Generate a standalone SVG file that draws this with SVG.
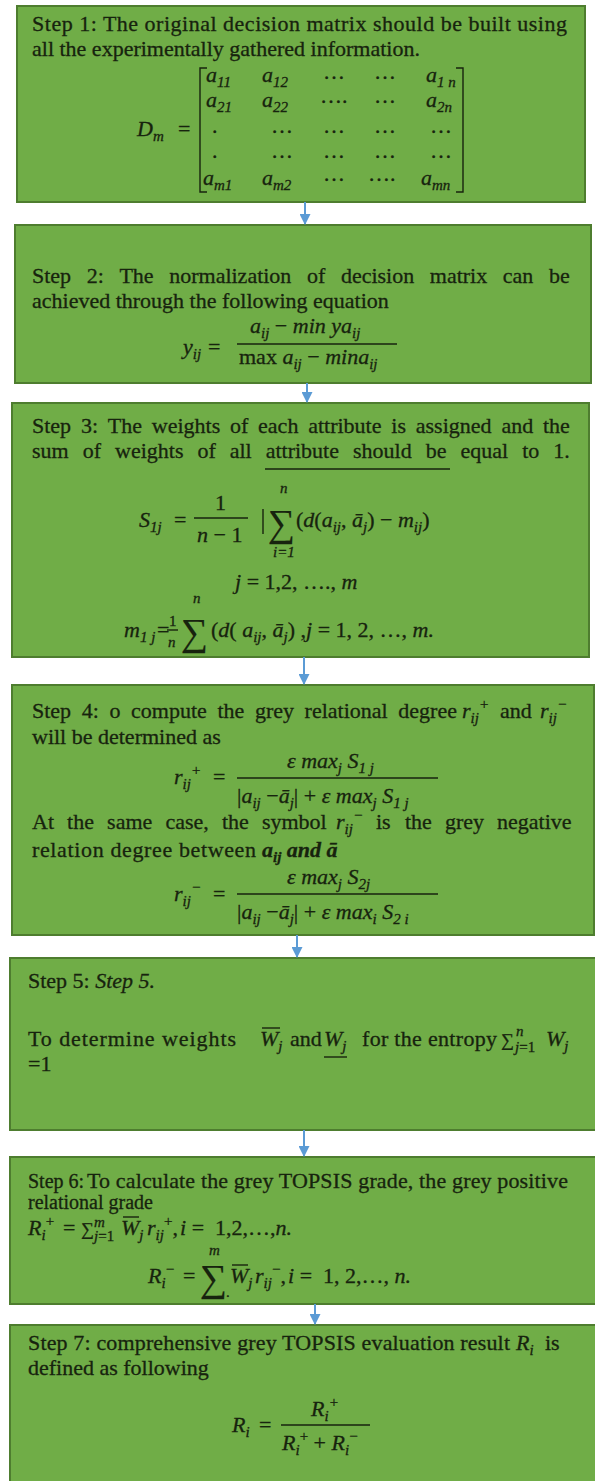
<svg xmlns="http://www.w3.org/2000/svg" width="595" height="1481" viewBox="0 0 595 1481">
<style>
.box{fill:#70ad47;stroke:#4e7d2f;stroke-width:2}
text{font-family:"Liberation Serif","Times New Roman",serif;font-size:22px;fill:#17230e;stroke:#17230e;stroke-width:0.3}
.i{font-style:italic}
.b{font-weight:bold}
.sm{font-size:15px}
.sub{font-size:15px;baseline-shift:-5px}
.sup{font-size:15px;baseline-shift:9px}
.big{font-size:38px;stroke-width:0.2}
.ln{stroke:#17230e;stroke-width:1.4;fill:none}
.conn line{stroke:#5b9bd5;stroke-width:2;marker-end:url(#ah)}
</style>
<defs>
<marker id="ah" markerUnits="userSpaceOnUse" markerWidth="11" markerHeight="11" refX="10" refY="5.5" orient="auto">
<path d="M0,0 L11,5.5 L0,11 z" fill="#5b9bd5"/>
</marker>
</defs>

<g id="step1">
<rect class="box" x="17" y="6" width="568" height="196"/>
<text x="32" y="31" textLength="535">Step 1: The original decision matrix should be built using</text>
<text x="32" y="56">all the experimentally gathered information.</text>
<text x="137" y="136" class="i">D<tspan class="sub">m</tspan></text>
<text x="178" y="136">=</text>
<path class="ln" d="M207,68 H200 V192 H207 M456,68 H463 V192 H456"/>
<text x="206" y="82" class="i">a<tspan class="sub">11</tspan></text>
<text x="262" y="82" class="i">a<tspan class="sub">12</tspan></text>
<text x="323" y="79">…</text>
<text x="374" y="79">…</text>
<text x="426" y="82" class="i">a<tspan class="sub">1</tspan><tspan class="sub"> n</tspan></text>
<text x="206" y="107" class="i">a<tspan class="sub">21</tspan></text>
<text x="262" y="107" class="i">a<tspan class="sub">22</tspan></text>
<text x="320" y="103">….</text>
<text x="374" y="103">…</text>
<text x="426" y="107" class="i">a<tspan class="sub">2n</tspan></text>
<text x="212" y="133">.</text>
<text x="271" y="133">…</text>
<text x="323" y="133">…</text>
<text x="374" y="133">…</text>
<text x="430" y="133">…</text>
<text x="212" y="158">.</text>
<text x="271" y="158">…</text>
<text x="323" y="158">…</text>
<text x="374" y="158">…</text>
<text x="430" y="158">…</text>
<text x="203" y="185" class="i">a<tspan class="sub">m1</tspan></text>
<text x="262" y="185" class="i">a<tspan class="sub">m2</tspan></text>
<text x="323" y="181">…</text>
<text x="368" y="181">….</text>
<text x="421" y="185" class="i">a<tspan class="sub">mn</tspan></text>
</g>

<g id="step2">
<rect class="box" x="15" y="225" width="576" height="158"/>
<text y="283"><tspan x="32">Step</tspan><tspan x="86.7">2:</tspan><tspan x="119.4">The</tspan><tspan x="169.2">normalization</tspan><tspan x="307">of</tspan><tspan x="340.9">decision</tspan><tspan x="429.8">matrix</tspan><tspan x="502.8">can</tspan><tspan x="548.9">be</tspan></text>
<text x="32" y="308">achieved through the following equation</text>
<text x="183" y="354" class="i">y<tspan class="sub">ij</tspan></text>
<text x="208" y="354">=</text>
<text x="250" y="333"><tspan class="i">a</tspan><tspan class="i sub">ij</tspan><tspan> − </tspan><tspan class="i">min ya</tspan><tspan class="i sub">ij</tspan></text>
<line class="ln" x1="237" y1="344" x2="397" y2="344"/>
<text x="239" y="364"><tspan>max </tspan><tspan class="i">a</tspan><tspan class="i sub">ij</tspan><tspan> − </tspan><tspan class="i">mina</tspan><tspan class="i sub">ij</tspan></text>
</g>

<g id="step3">
<rect class="box" x="12" y="403" width="577" height="254"/>
<text y="433"><tspan x="32">Step</tspan><tspan x="80.9">3:</tspan><tspan x="107.8">The</tspan><tspan x="151.8">weights</tspan><tspan x="230">of</tspan><tspan x="258.1">each</tspan><tspan x="308.2">attribute</tspan><tspan x="391.3">is</tspan><tspan x="415.8">assigned</tspan><tspan x="501.4">and</tspan><tspan x="543">the</tspan></text>
<text y="458"><tspan x="32">sum</tspan><tspan x="82.7">of</tspan><tspan x="115">weights</tspan><tspan x="197.4">of</tspan><tspan x="229.7">all</tspan><tspan x="265.7">attribute</tspan><tspan x="353">should</tspan><tspan x="425.7">be</tspan><tspan x="460.5">equal</tspan><tspan x="522.2">to</tspan><tspan x="553.3">1.</tspan></text>
<line class="ln" x1="265" y1="469" x2="450" y2="469" stroke-width="1.7"/>
<text x="139" y="527" class="i">S<tspan class="sub">1j</tspan></text>
<text x="174" y="527">=</text>
<text x="215" y="510">1</text>
<line class="ln" x1="194" y1="518" x2="248" y2="518"/>
<text x="197" y="542"><tspan class="i">n</tspan> − 1</text>
<line class="ln" x1="263" y1="509" x2="263" y2="534"/>
<text x="268" y="536" class="big">∑</text>
<text x="280" y="493" class="i sm">n</text>
<text x="273" y="557" class="i sm">i<tspan>=1</tspan></text>
<text x="296" y="527"><tspan>(</tspan><tspan class="i">d</tspan><tspan>(</tspan><tspan class="i">a</tspan><tspan class="i sub">ij</tspan><tspan>, </tspan><tspan class="i">ā</tspan><tspan class="i sub">j</tspan><tspan>) − </tspan><tspan class="i">m</tspan><tspan class="i sub">ij</tspan><tspan>)</tspan></text>
<text x="235" y="589"><tspan class="i">j</tspan> = 1,2, …., <tspan class="i">m</tspan></text>
<text x="124" y="637" class="i">m<tspan class="sub">1 j</tspan></text>
<text x="157" y="637">=</text>
<text x="169" y="626" class="sm">1</text>
<line class="ln" x1="167" y1="630" x2="178" y2="630"/>
<text x="168" y="647" class="i sm">n</text>
<text x="181" y="645" class="big">∑</text>
<text x="193" y="603" class="i sm">n</text>
<text x="211" y="637"><tspan>(</tspan><tspan class="i">d</tspan><tspan>( </tspan><tspan class="i">a</tspan><tspan class="i sub">ij</tspan><tspan>, </tspan><tspan class="i">ā</tspan><tspan class="i sub">j</tspan><tspan>) ,</tspan><tspan class="i">j</tspan><tspan> = 1, 2, …, </tspan><tspan class="i">m.</tspan></text>
</g>

<g id="step4">
<rect class="box" x="12" y="685" width="582" height="250"/>
<text y="718"><tspan x="32">Step</tspan><tspan x="81.7">4:</tspan><tspan x="109.4">o</tspan><tspan x="131">compute</tspan><tspan x="217.4">the</tspan><tspan x="254.9">grey</tspan><tspan x="304.6">relational</tspan><tspan x="398.3">degree</tspan></text>
<text x="462" y="718" class="i">r<tspan class="sub">ij</tspan><tspan class="sup">+</tspan></text>
<text x="500" y="718">and</text>
<text x="540" y="718" class="i">r<tspan class="sub">ij</tspan><tspan class="sup">−</tspan></text>
<text x="32" y="744">will be determined as</text>
<text x="174" y="784" class="i">r<tspan class="sub">ij</tspan><tspan class="sup">+</tspan></text>
<text x="213" y="784">=</text>
<text x="287" y="768"><tspan class="i">ε max</tspan><tspan class="i sub">j</tspan><tspan class="i"> S</tspan><tspan class="i sub">1 j</tspan></text>
<line class="ln" x1="237" y1="778" x2="438" y2="778"/>
<text x="237" y="803"><tspan>|</tspan><tspan class="i">a</tspan><tspan class="i sub">ij</tspan><tspan> −</tspan><tspan class="i">ā</tspan><tspan class="i sub">j</tspan><tspan>| + </tspan><tspan class="i">ε max</tspan><tspan class="i sub">j</tspan><tspan class="i"> S</tspan><tspan class="i sub">1 j</tspan></text>
<text y="829"><tspan x="32">At</tspan><tspan x="67.1">the</tspan><tspan x="107.1">same</tspan><tspan x="165.4">case,</tspan><tspan x="221.9">the</tspan><tspan x="261.9">symbol</tspan></text>
<text x="336" y="829" class="i">r<tspan class="sub">ij</tspan><tspan class="sup">−</tspan></text>
<text y="829"><tspan x="376">is</tspan><tspan x="405">the</tspan><tspan x="445">grey</tspan><tspan x="497">negative</tspan></text>
<text x="32" y="857" textLength="224">relation degree between</text>
<text x="262" y="857" class="i b">a<tspan class="sub">ij</tspan><tspan> and ā</tspan></text>
<text x="174" y="901" class="i">r<tspan class="sub">ij</tspan><tspan class="sup">−</tspan></text>
<text x="213" y="901">=</text>
<text x="287" y="884"><tspan class="i">ε max</tspan><tspan class="i sub">j</tspan><tspan class="i"> S</tspan><tspan class="i sub">2j</tspan></text>
<line class="ln" x1="237" y1="894" x2="438" y2="894"/>
<text x="237" y="919"><tspan>|</tspan><tspan class="i">a</tspan><tspan class="i sub">ij</tspan><tspan> −</tspan><tspan class="i">ā</tspan><tspan class="i sub">j</tspan><tspan>| + </tspan><tspan class="i">ε max</tspan><tspan class="i sub">i</tspan><tspan class="i"> S</tspan><tspan class="i sub">2 i</tspan></text>
</g>

<g id="step5">
<rect class="box" x="10" y="958" width="590" height="172"/>
<text x="28" y="988">Step 5: <tspan class="i">Step 5.</tspan></text>
<text x="28" y="1046" textLength="208">To determine weights</text>
<text x="260" y="1046" class="i">W<tspan class="sub">j</tspan></text>
<line class="ln" x1="262" y1="1028" x2="280" y2="1028"/>
<text x="290" y="1046">and</text>
<text x="324" y="1046" class="i">W<tspan class="sub">j</tspan></text>
<line class="ln" x1="324" y1="1057" x2="347" y2="1057"/>
<text x="362" y="1046" textLength="135">for the entropy</text>
<text x="501" y="1046" style="font-size:18px">∑</text>
<text x="515" y="1052" class="sm"><tspan class="i">j</tspan>=1</text>
<text x="516" y="1036" class="i sm">n</text>
<text x="546" y="1046" class="i">W<tspan class="sub">j</tspan></text>
<text x="28" y="1071">=1</text>
</g>

<g id="step6">
<rect class="box" x="10" y="1157" width="590" height="147"/>
<text x="28" y="1188" style="font-size:20px">Step 6:</text>
<text x="87" y="1188" textLength="481">To calculate the grey TOPSIS grade, the grey positive</text>
<text x="28" y="1209" style="font-size:20px">relational grade</text>
<text x="28" y="1235"><tspan class="i">R</tspan><tspan class="i sub">i</tspan><tspan class="sup">+</tspan></text>
<text x="63" y="1235">=</text>
<text x="81" y="1235" style="font-size:18px">∑</text>
<text x="94" y="1227" class="i sm">m</text>
<text x="94" y="1241" class="sm"><tspan class="i">j</tspan>=1</text>
<text x="121" y="1235" class="i">W<tspan class="sub">j</tspan></text>
<line class="ln" x1="123" y1="1217" x2="139" y2="1217"/>
<text x="147" y="1235"><tspan class="i">r</tspan><tspan class="i sub">ij</tspan><tspan class="sup">+</tspan><tspan>,</tspan></text>
<text x="180" y="1235"><tspan class="i">i</tspan><tspan> = &#160;1,2,…,</tspan><tspan class="i">n.</tspan></text>
<text x="148" y="1283"><tspan class="i">R</tspan><tspan class="i sub">i</tspan><tspan class="sup">−</tspan></text>
<text x="183" y="1283">=</text>
<text x="200" y="1291" class="big">∑</text>
<text x="209" y="1255" class="i sm">m</text>
<text x="226" y="1297" class="sm">.</text>
<text x="230" y="1283" class="i">W<tspan class="sub">j</tspan></text>
<line class="ln" x1="232" y1="1265" x2="248" y2="1265"/>
<text x="255" y="1283"><tspan class="i">r</tspan><tspan class="i sub">ij</tspan><tspan class="sup">−</tspan><tspan>,</tspan></text>
<text x="288" y="1283"><tspan class="i">i</tspan><tspan> = &#160;1, 2,…, </tspan><tspan class="i">n.</tspan></text>
</g>

<g id="step7">
<rect class="box" x="10" y="1325" width="590" height="165"/>
<text x="28" y="1350" textLength="482">Step 7: comprehensive grey TOPSIS evaluation result</text>
<text x="516" y="1350" class="i">R<tspan class="sub">i</tspan></text>
<text x="545" y="1350">is</text>
<text x="28" y="1375">defined as following</text>
<text x="232" y="1432" class="i">R<tspan class="sub">i</tspan></text>
<text x="259" y="1432">=</text>
<text x="311" y="1416" class="i">R<tspan class="sub">i</tspan><tspan class="sup">+</tspan></text>
<line class="ln" x1="281" y1="1425" x2="370" y2="1425"/>
<text x="282" y="1450"><tspan class="i">R</tspan><tspan class="i sub">i</tspan><tspan class="sup">+</tspan><tspan> + </tspan><tspan class="i">R</tspan><tspan class="i sub">i</tspan><tspan class="sup">−</tspan></text>
</g>

<g id="connectors" class="conn">
<line x1="305" y1="202" x2="305" y2="224"/>
<line x1="307" y1="383" x2="307" y2="402"/>
<line x1="304" y1="657" x2="304" y2="684"/>
<line x1="297" y1="935" x2="297" y2="957"/>
<line x1="304" y1="1130" x2="304" y2="1156"/>
<line x1="315" y1="1304" x2="315" y2="1324"/>
</g>
</svg>
